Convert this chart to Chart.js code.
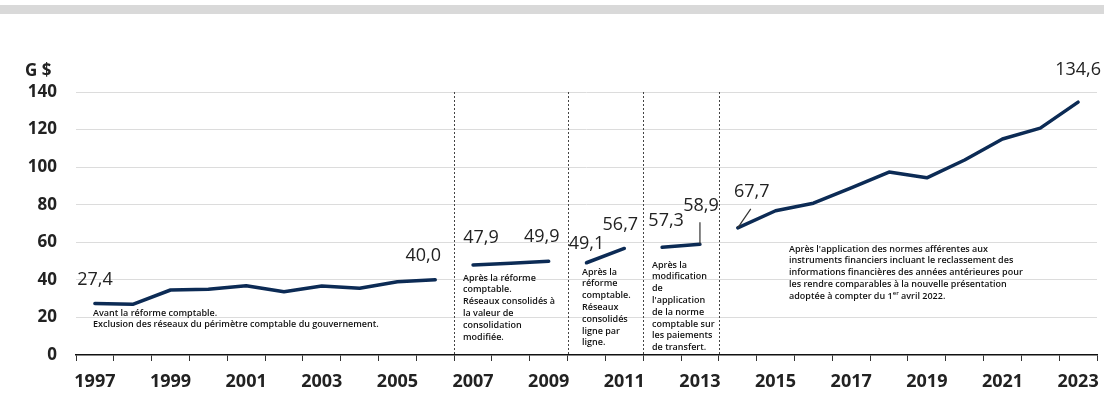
<!DOCTYPE html>
<html>
<head>
<meta charset="utf-8">
<script src="https://cdn.jsdelivr.net/npm/chart.js@4.4.1/dist/chart.umd.min.js"></script>
<style>
  html, body { margin: 0; padding: 0; background: #fff; }
  #wrap { position: relative; width: 1104px; height: 393px; }
</style>
</head>
<body>
<div id="wrap"><canvas id="chart" width="1104" height="393"></canvas></div>
<script>
// years on the x axis
var years = ['1997','1998','1999','2000','2001','2002','2003','2004','2005','2006','2007','2008','2009',
  '2010','2011','2012','2013','2014','2015','2016','2017','2018','2019','2020','2021','2022','2023'];

// G $, one array per accounting period
var beforeReform = [27.4, 27.0, 34.6, 35.0, 36.9, 33.7, 36.7, 35.5, 39.0, 40.0];      // 1997-2006
var consolidationValue = [47.9, 48.9, 49.9];                                         // 2007-2009
var lineByLine = [49.1, 56.7];                                                       // 2010-2011
var transferPayments = [57.3, 58.9];                                                 // 2012-2013
var financialInstruments = [67.7, 76.8, 80.8, 89.0, 97.4, 94.3, 103.8, 115.0, 120.8, 134.6]; // 2014-2023

var yTicks = [0, 20, 40, 60, 80, 100, 120, 140];

var segments = [
  { start: '1997', values: beforeReform },
  { start: '2007', values: consolidationValue },
  { start: '2010', values: lineByLine },
  { start: '2012', values: transferPayments },
  { start: '2014', values: financialInstruments }
];

// years where a period starts (dotted separator drawn before them)
var breaks = ['2007', '2010', '2012', '2014'];

// which points get a value label, with label offset in px from the point
var valueLabels = [
  { year: '1997', dx: 0, dy: -24 },
  { year: '2006', dx: -12, dy: -24 },
  { year: '2007', dx: 8, dy: -27 },
  { year: '2009', dx: -7, dy: -24 },
  { year: '2010', dx: 0, dy: -19 },
  { year: '2011', dx: -4, dy: -24 },
  { year: '2012', dx: 4, dy: -26 },
  { year: '2013', dx: 1, dy: -38, leader: [0, -22] },
  { year: '2014', dx: 14, dy: -36, leader: [13, -19] },
  { year: '2023', dx: 0, dy: -32 }
];

var notes = [
  { x: 93, y: 313, lines: ['Avant la réforme comptable.', 'Exclusion des réseaux du périmètre comptable du gouvernement.'] },
  { x: 463, y: 278, lines: ['Après la réforme', 'comptable.', 'Réseaux consolidés à', 'la valeur de', 'consolidation', 'modifiée.'] },
  { x: 582, y: 272, lines: ['Après la', 'réforme', 'comptable.', 'Réseaux', 'consolidés', 'ligne par', 'ligne.'] },
  { x: 652, y: 265, lines: ['Après la', 'modification', 'de', 'l\'application', 'de la norme', 'comptable sur', 'les paiements', 'de transfert.'] },
  { x: 789, y: 249, lines: ['Après l\'application des normes afférentes aux', 'instruments financiers incluant le reclassement des',
    'informations financières des années antérieures pour', 'les rendre comparables à la nouvelle présentation',
    'adoptée à compter du 1|er| avril 2022.'] }
];

var lineColor = '#0c2b55';
var textColor = '#222';

function padSegment(seg){
  var out = years.map(function(){ return null; });
  var i0 = years.indexOf(seg.start);
  seg.values.forEach(function(v, i){ out[i0 + i] = v; });
  return out;
}

function valueAt(year){
  for(var s = 0; s < segments.length; s++){
    var i = years.indexOf(year) - years.indexOf(segments[s].start);
    if(i >= 0 && i < segments[s].values.length){ return segments[s].values[i]; }
  }
  return null;
}

var overlay = {
  id: 'overlay',
  beforeDraw: function(chart){
    var ctx = chart.ctx;
    ctx.save();
    ctx.fillStyle = '#d9d9d9';
    ctx.fillRect(0, 5, chart.width, 9);
    ctx.restore();
  },
  beforeDatasetsDraw: function(chart){
    var ctx = chart.ctx, x = chart.scales.x, y = chart.scales.y;
    var half = (x.getPixelForValue(1) - x.getPixelForValue(0)) / 2;
    ctx.save();
    ctx.strokeStyle = '#444';
    ctx.lineWidth = 1;
    ctx.setLineDash([2, 2]);
    breaks.forEach(function(yr){
      var px = Math.round(x.getPixelForValue(years.indexOf(yr)) - half) + 0.5;
      ctx.beginPath();
      ctx.moveTo(px, y.getPixelForValue(140));
      ctx.lineTo(px, y.getPixelForValue(0));
      ctx.stroke();
    });
    ctx.restore();
  },
  afterDatasetsDraw: function(chart){
    var ctx = chart.ctx, x = chart.scales.x, y = chart.scales.y;
    ctx.save();
    // unit label
    ctx.fillStyle = textColor;
    ctx.font = 'bold 17px "Open Sans"';
    ctx.textAlign = 'left';
    ctx.textBaseline = 'middle';
    ctx.fillText('G $', 25, 71);

    // value labels and leaders
    ctx.font = '18px "Open Sans"';
    ctx.textAlign = 'center';
    valueLabels.forEach(function(l){
      var v = valueAt(l.year);
      var px = x.getPixelForValue(years.indexOf(l.year));
      var py = y.getPixelForValue(v);
      if(l.leader){
        ctx.strokeStyle = '#333';
        ctx.lineWidth = 1.2;
        ctx.beginPath();
        ctx.moveTo(px, py);
        ctx.lineTo(px + l.leader[0], py + l.leader[1]);
        ctx.stroke();
      }
      ctx.fillText(v.toFixed(1).replace('.', ','), px + l.dx, py + l.dy);
    });

    // notes
    ctx.fillStyle = '#111';
    ctx.textAlign = 'left';
    notes.forEach(function(n){
      n.lines.forEach(function(line, i){
        var ly = n.y + i * 11.8;
        var parts = line.split('|');
        var cx = n.x;
        parts.forEach(function(p, k){
          if(k === 1){
            ctx.font = '600 6px "Open Sans"';
            ctx.fillText(p, cx, ly - 3);
          } else {
            ctx.font = '600 9px "Open Sans"';
            ctx.fillText(p, cx, ly);
          }
          cx += ctx.measureText(p).width;
        });
      });
    });
    ctx.restore();
  }
};

new Chart(document.getElementById('chart').getContext('2d'), {
  type: 'line',
  plugins: [overlay],
  data: {
    labels: years,
    datasets: segments.map(function(seg){
      return {
        data: padSegment(seg),
        borderColor: lineColor,
        backgroundColor: lineColor,
        borderWidth: 3.5,
        borderCapStyle: 'round',
        borderJoinStyle: 'round',
        pointRadius: 0,
        tension: 0,
        spanGaps: false
      };
    })
  },
  options: {
    responsive: false,
    animation: false,
    layout: { padding: { top: 92, right: 7, left: 0, bottom: 0 } },
    plugins: { legend: { display: false }, tooltip: { enabled: false } },
    scales: {
      x: {
        offset: true,
        afterFit: function(scale){ scale.height = 38; scale.paddingLeft = 0; scale.paddingRight = 0; },
        border: { display: true, color: '#111', width: 1.5 },
        grid: { drawOnChartArea: false, drawTicks: true, tickLength: 6, color: '#333', offset: true },
        ticks: {
          autoSkip: false, maxRotation: 0, padding: 10,
          color: textColor, font: { family: 'Open Sans', size: 18, weight: 'bold' },
          callback: function(v, i){ return i % 2 === 0 ? years[i] : ''; }
        }
      },
      y: {
        min: 0, max: 140,
        afterFit: function(scale){ scale.width = 76; },
        afterBuildTicks: function(scale){ scale.ticks = yTicks.map(function(v){ return { value: v }; }); },
        border: { display: false },
        grid: {
          drawTicks: false,
          color: function(c){ return c.tick && c.tick.value === 0 ? 'rgba(0,0,0,0)' : '#dcdcdc'; }
        },
        ticks: { padding: 19, color: textColor, font: { family: 'Open Sans', size: 17, weight: 'bold' } }
      }
    }
  }
});
</script>
</body>
</html>
